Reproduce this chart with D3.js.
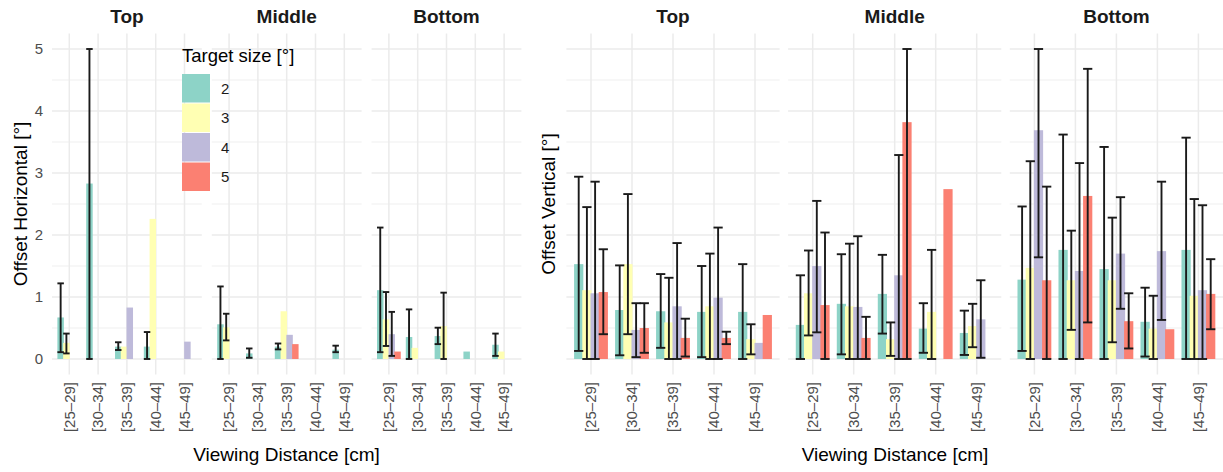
<!DOCTYPE html>
<html>
<head>
<meta charset="utf-8">
<script src="https://cdn.jsdelivr.net/npm/d3@7"></script>
<style>
  body { margin: 0; background: #fff; }
  svg { display: block; font-family: "Liberation Sans", Arial, Helvetica, sans-serif; }
</style>
</head>
<body>
<svg id="chart" width="1223" height="472"></svg>
<script>
const distances = ["[25–29]", "[30–34]", "[35–39]", "[40–44]", "[45–49]"];
const positions = ["Top", "Middle", "Bottom"];
const sizes = ["2", "3", "4", "5"];
const colors = ["#8DD3C7", "#FFFFB3", "#BEBADA", "#FB8072"];
const yTicks = [0, 1, 2, 3, 4, 5];

// rows = target size 2,3,4,5 ; columns = distances
// horizontal offset
const hTopMean = [[0.67, 2.83, 0.20, 0.20, null], [0.26, null, 0.20, 2.26, null], [null, null, 0.83, null, 0.28], [null, null, null, null, null]];
const hTopLo   = [[0.11, 0, 0.145, 0, null], [0.09, null, null, null, null], [null, null, null, null, null], [null, null, null, null, null]];
const hTopHi   = [[1.22, 5.0, 0.27, 0.435, null], [0.41, null, null, null, null], [null, null, null, null, null], [null, null, null, null, null]];

const hMidMean = [[0.56, 0.09, 0.20, null, 0.15], [0.51, null, 0.77, null, null], [null, null, 0.39, null, null], [null, null, 0.24, null, null]];
const hMidLo   = [[0, 0.02, 0.155, null, 0.11], [0.30, null, null, null, null], [null, null, null, null, null], [null, null, null, null, null]];
const hMidHi   = [[1.17, 0.17, 0.25, null, 0.215], [0.73, null, null, null, null], [null, null, null, null, null], [null, null, null, null, null]];

const hBotMean = [[1.11, 0.355, 0.37, 0.12, 0.23], [0.64, 0.18, 0.53, null, 0.12], [0.40, null, null, null, null], [0.12, null, null, null, null]];
const hBotLo   = [[0.11, 0, 0.24, null, 0.05], [0.21, null, 0, null, null], [0.05, null, null, null, null], [null, null, null, null, null]];
const hBotHi   = [[2.12, 0.80, 0.505, null, 0.41], [1.08, null, 1.07, null, null], [0.76, null, null, null, null], [null, null, null, null, null]];

// vertical offset
const vTopMean = [[1.53, 0.79, 0.77, 0.76, 0.76], [1.11, 1.53, 0.59, 0.85, 0.32], [1.06, 0.47, 0.85, 0.99, 0.26], [1.08, 0.50, 0.34, 0.34, 0.71]];
const vTopLo   = [[0.13, 0.06, 0.18, 0.03, 0], [0, 0.40, 0, 0, 0.075], [0, 0.03, 0, 0, null], [0.40, 0.10, 0.04, 0.24, null]];
const vTopHi   = [[2.94, 1.51, 1.37, 1.50, 1.53], [2.45, 2.66, 1.31, 1.70, 0.56], [2.86, 0.90, 1.87, 2.12, null], [1.77, 0.90, 0.65, 0.44, null]];

const vMidMean = [[0.55, 0.89, 1.05, 0.49, 0.42], [1.06, 0.85, 0.32, 0.76, 0.53], [1.50, 0.84, 1.35, null, 0.64], [0.87, 0.34, 3.82, 2.74, null]];
const vMidLo   = [[0, 0.075, 0.41, 0.10, 0.065], [0.38, 0, 0.05, 0, 0.19], [0.43, 0, 0, null, 0.02], [0, 0, 0, null, null]];
const vMidHi   = [[1.35, 1.69, 1.68, 0.90, 0.78], [1.75, 1.86, 0.59, 1.76, 0.89], [2.55, 1.98, 3.29, null, 1.27], [2.04, 0.68, 5.0, null, null]];

const vBotMean = [[1.28, 1.76, 1.45, 0.60, 1.76], [1.47, 1.27, 1.27, 0.49, 1.02], [3.69, 1.42, 1.70, 1.74, 1.11], [1.27, 2.63, 0.61, 0.48, 1.05]];
const vBotLo   = [[0.13, 0, 0, 0.04, 0], [0, 0.47, 0.27, 0, 0], [1.64, 0, 0.81, 0.63, 0], [0, 0.59, 0.17, null, 0.48]];
const vBotHi   = [[2.46, 3.62, 3.42, 1.15, 3.57], [3.19, 2.07, 2.28, 1.02, 2.58], [5.0, 3.16, 2.61, 2.86, 2.48], [2.78, 4.68, 1.06, null, 1.61]];

const svg = d3.select("#chart");

const y = d3.scaleLinear().domain([0, 5]).range([359, 49]);
const panelTop = y(5.25), panelBottom = y(-0.25);

function toRows(mean, lo, hi) {
  const rows = [];
  sizes.forEach((s, i) => distances.forEach((d, j) => {
    if (mean[i][j] == null) return;
    rows.push({size: i, dist: d, value: mean[i][j], lo: lo[i][j], hi: hi[i][j]});
  }));
  return rows;
}

function drawPanel(x0, w, title, rows) {
  const x = d3.scalePoint().domain(distances).range([x0, x0 + w]).padding(0.6);
  const unit = x.step();
  const g = svg.append("g");

  // grid
  g.selectAll(".minor").data(d3.range(0.5, 5, 1)).join("line")
    .attr("x1", x0).attr("x2", x0 + w)
    .attr("y1", d => y(d)).attr("y2", d => y(d))
    .attr("stroke", "#EBEBEB").attr("stroke-width", 0.8);
  g.selectAll(".major").data(yTicks).join("line")
    .attr("x1", x0).attr("x2", x0 + w)
    .attr("y1", d => y(d)).attr("y2", d => y(d))
    .attr("stroke", "#EBEBEB").attr("stroke-width", 1.5);
  g.selectAll(".vgrid").data(distances).join("line")
    .attr("x1", d => x(d)).attr("x2", d => x(d))
    .attr("y1", panelTop).attr("y2", panelBottom)
    .attr("stroke", "#EBEBEB").attr("stroke-width", 1.5);

  const cx = d => x(d.dist) + (d.size - 1.5) * 0.2 * unit;
  const bw = 0.225 * unit;

  g.selectAll(".bar").data(rows).join("rect")
    .attr("x", d => cx(d) - bw / 2)
    .attr("width", bw)
    .attr("y", d => y(d.value))
    .attr("height", d => y(0) - y(d.value))
    .attr("fill", d => colors[d.size]);

  const eb = rows.filter(d => d.lo != null && d.hi != null);
  const e = g.selectAll(".err").data(eb).join("g").attr("stroke", "#1A1A1A").attr("stroke-width", 1.9);
  e.append("line").attr("x1", cx).attr("x2", cx).attr("y1", d => y(d.lo)).attr("y2", d => y(d.hi));
  e.append("line").attr("x1", d => cx(d) - bw / 2).attr("x2", d => cx(d) + bw / 2).attr("y1", d => y(d.lo)).attr("y2", d => y(d.lo));
  e.append("line").attr("x1", d => cx(d) - bw / 2).attr("x2", d => cx(d) + bw / 2).attr("y1", d => y(d.hi)).attr("y2", d => y(d.hi));

  // strip title
  svg.append("text").attr("x", x0 + w / 2).attr("y", 23)
    .attr("text-anchor", "middle").attr("font-weight", "bold")
    .attr("font-size", 19).attr("fill", "#1A1A1A").text(title);

  // x tick labels
  svg.append("g").selectAll("text").data(distances).join("text")
    .attr("transform", d => `translate(${x(d)},382) rotate(-90)`)
    .attr("text-anchor", "end").attr("dy", "0.35em")
    .attr("font-size", 15).attr("fill", "#4D4D4D").text(d => d);
}

// left chart: horizontal offset
const lw = 149.8, lgap = 10;
const hData = [[hTopMean, hTopLo, hTopHi], [hMidMean, hMidLo, hMidHi], [hBotMean, hBotLo, hBotHi]];
positions.forEach((p, i) => drawPanel(52 + i * (lw + lgap), lw, p, toRows(...hData[i])));

svg.append("g").selectAll("text").data(yTicks).join("text")
  .attr("x", 43).attr("y", d => y(d)).attr("dy", "0.35em")
  .attr("text-anchor", "end").attr("font-size", 15).attr("fill", "#4D4D4D")
  .text(d => d);

svg.append("text").attr("transform", "translate(27,204) rotate(-90)")
  .attr("text-anchor", "middle").attr("font-size", 19).text("Offset Horizontal [°]");
svg.append("text").attr("x", 286.5).attr("y", 461)
  .attr("text-anchor", "middle").attr("font-size", 19).text("Viewing Distance [cm]");

// right chart: vertical offset
const rw = 213.2, rgap = 8.5;
const vData = [[vTopMean, vTopLo, vTopHi], [vMidMean, vMidLo, vMidHi], [vBotMean, vBotLo, vBotHi]];
positions.forEach((p, i) => drawPanel(566.4 + i * (rw + rgap), rw, p, toRows(...vData[i])));

svg.append("text").attr("transform", "translate(555,204) rotate(-90)")
  .attr("text-anchor", "middle").attr("font-size", 19).text("Offset Vertical [°]");
svg.append("text").attr("x", 895).attr("y", 461)
  .attr("text-anchor", "middle").attr("font-size", 19).text("Viewing Distance [cm]");

// legend
const legend = svg.append("g").attr("transform", "translate(182,0)");
legend.append("text").attr("x", 0).attr("y", 62).attr("font-size", 18.5).text("Target size [°]");
const key = legend.selectAll(".key").data(sizes).join("g")
  .attr("transform", (d, i) => `translate(0,${74 + i * 29.5})`);
key.append("rect").attr("width", 28).attr("height", 28.5).attr("fill", (d, i) => colors[i]);
key.append("text").attr("x", 39).attr("y", 14.5).attr("dy", "0.35em")
  .attr("font-size", 15).attr("fill", "#1A1A1A").text(d => d);
</script>
</body>
</html>
